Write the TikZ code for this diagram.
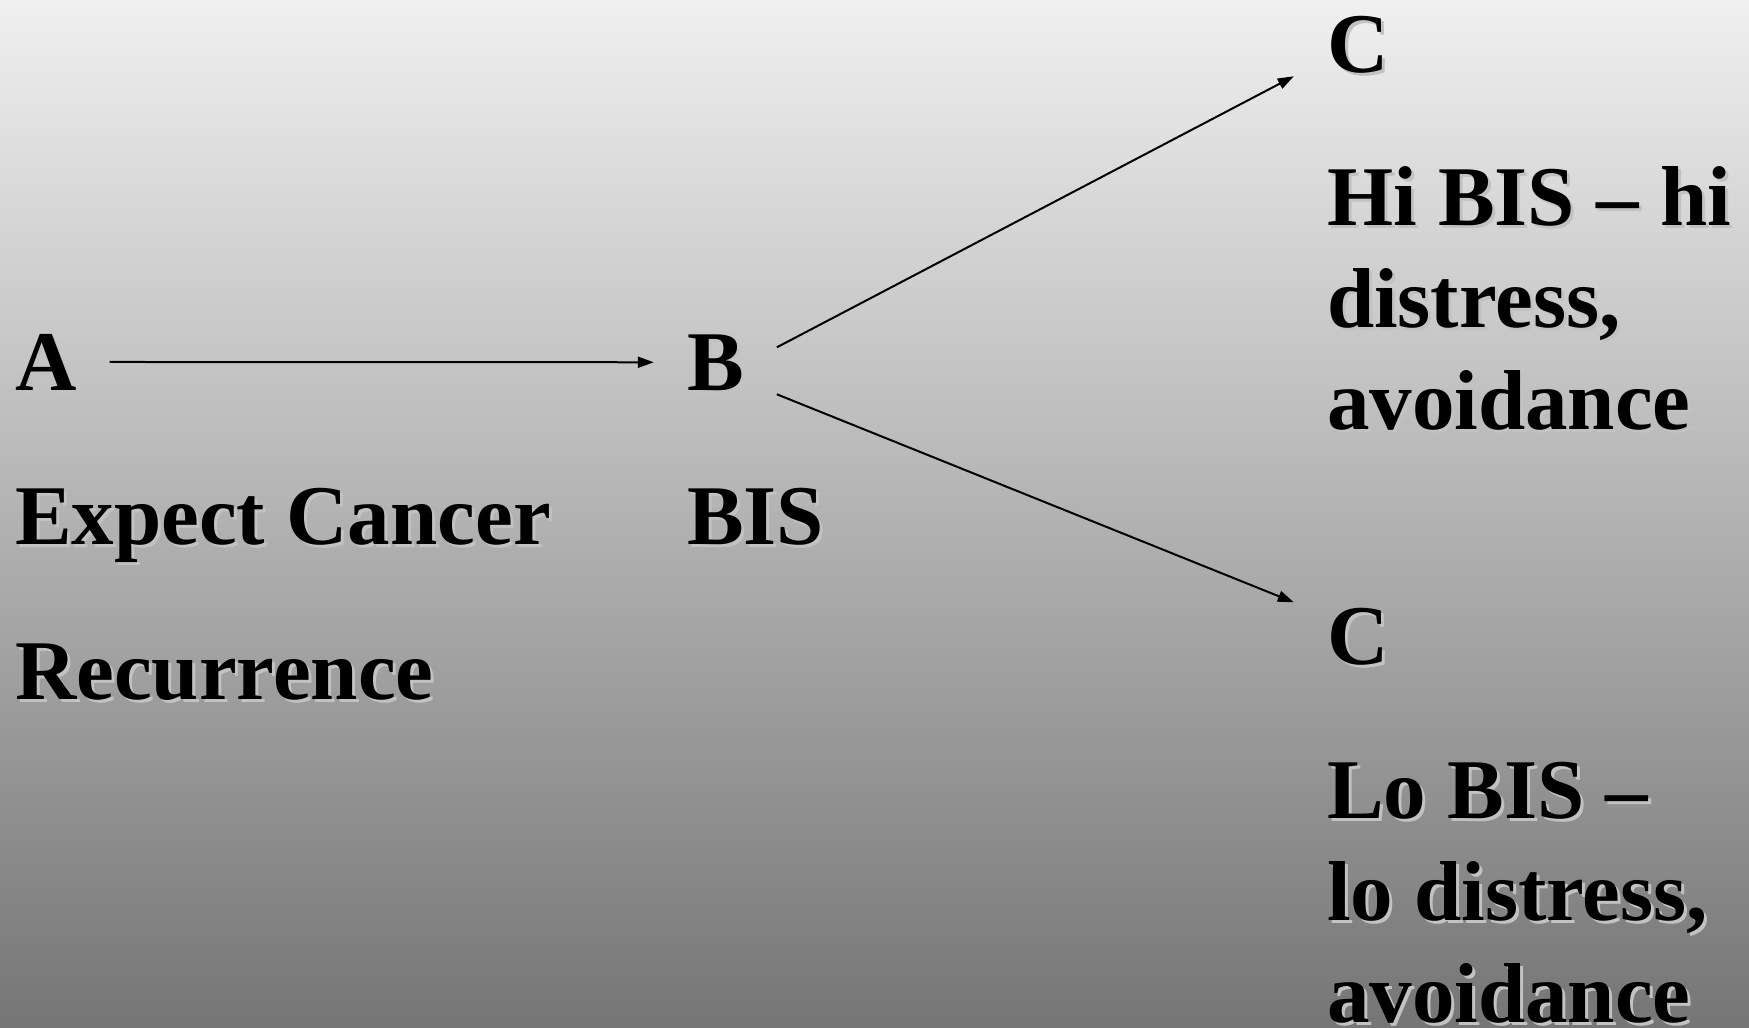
\documentclass[tikz,border=0pt]{standalone}
\usepackage{fontspec}
\setmainfont{Liberation Serif}
\usetikzlibrary{arrows.meta}

\definecolor{slidetop}{gray}{0.94}
\definecolor{slidebottom}{gray}{0.46}
\definecolor{textshade}{gray}{0.76}

% text with a light drop shadow: [style] name, x, y (last baseline), text
\newcommand{\shadedtext}[5][]{%
  \node[txt, #1, text=textshade, xshift=3pt, yshift=-3pt] at (#3,#4) {#5};
  \node[txt, #1] (#2) at (#3,#4) {#5};
}

\begin{document}
\begin{tikzpicture}[x=1pt,y=-1pt,>={Triangle[length=16pt,width=11pt]},
	txt/.style={anchor=text, inner sep=0pt, align=left,
		font=\fontsize{85}{102}\selectfont\bfseries},
	letter/.style={inner sep=33pt},
	link/.style={->, line width=2pt},
]
	% gradient background
	\shade[top color=slidetop, bottom color=slidebottom] (0,0) rectangle (1749,1028);
	\useasboundingbox (0,0) rectangle (1749,1028);

	% left column
	\shadedtext[letter]{a}{15}{390}{A}
	\shadedtext{expect}{15}{544}{Expect Cancer}
	\shadedtext{recur}{15}{699}{Recurrence}

	% middle column
	\shadedtext[letter]{b}{687}{390}{B}
	\shadedtext{bis}{687}{544}{BIS}

	% right column
	\shadedtext[letter]{cHi}{1327}{72}{C}
	\shadedtext{hiText}{1327}{429}{Hi BIS – hi\\distress,\\avoidance}
	\shadedtext[letter]{cLo}{1327}{664}{C}
	\shadedtext{loText}{1327}{1022}{Lo BIS –\\lo distress,\\avoidance}

	\draw[link] (a) -- (b);
	\draw[link] ([yshift=15pt]b.east) -- ([yshift=-32pt]cHi.west);
	\draw[link] ([yshift=-32pt]b.east) -- ([yshift=34pt]cLo.west);
\end{tikzpicture}
\end{document}
